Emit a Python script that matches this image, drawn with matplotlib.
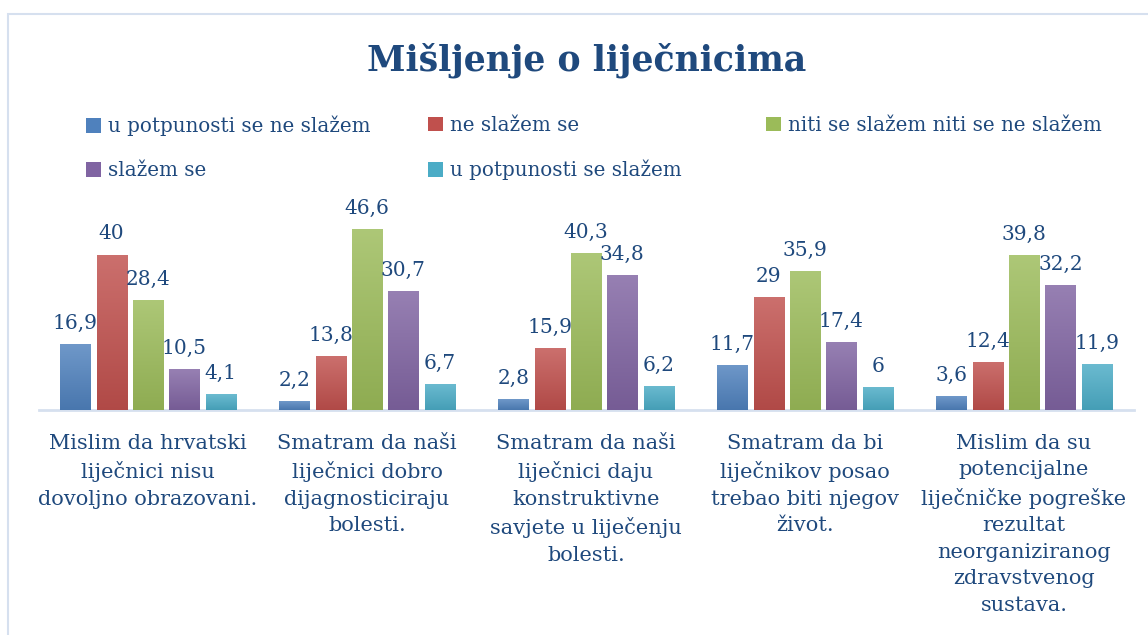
import numpy as np
import matplotlib
matplotlib.use('Agg')
import matplotlib.pyplot as plt
from matplotlib.patches import Patch, Rectangle
from matplotlib.colors import to_rgb

# chart data
categories = [
    'Mislim da hrvatski\nliječnici nisu\ndovoljno obrazovani.',
    'Smatram da naši\nliječnici dobro\ndijagnosticiraju\nbolesti.',
    'Smatram da naši\nliječnici daju\nkonstruktivne\nsavjete u liječenju\nbolesti.',
    'Smatram da bi\nliječnikov posao\ntrebao biti njegov\nživot.',
    'Mislim da su\npotencijalne\nliječničke pogreške\nrezultat\nneorganiziranog\nzdravstvenog\nsustava.',
]
series_names = [
    'u potpunosti se ne slažem',
    'ne slažem se',
    'niti se slažem niti se ne slažem',
    'slažem se',
    'u potpunosti se slažem',
]
u_potpunosti_ne = [16.9, 2.2, 2.8, 11.7, 3.6]
ne_slazem = [40, 13.8, 15.9, 29, 12.4]
niti_niti = [28.4, 46.6, 40.3, 35.9, 39.8]
slazem = [10.5, 30.7, 34.8, 17.4, 32.2]
u_potpunosti_da = [4.1, 6.7, 6.2, 6, 11.9]
series = [u_potpunosti_ne, ne_slazem, niti_niti, slazem, u_potpunosti_da]

colors = ['#4F81BD', '#C0504D', '#9BBB59', '#8064A2', '#4BACC6']
TEXT = '#1F497D'
FONT = 'DejaVu Serif'

W, H = 1148, 635
fig = plt.figure(figsize=(W / 100, H / 100), dpi=100)
fig.patch.set_facecolor('white')

# outer chart border
fig.patches.append(Rectangle((8 / W, -0.1), 1.2, (H - 14) / H + 0.1, transform=fig.transFigure,
                             fill=False, edgecolor='#D6E0EF', lw=1.5))

# axes placed in pixels: baseline y=410, 3.885 px per unit
ymax = 50
ax_left, ax_right, base_y = 38.5, 1133.5, 410
ax_h = ymax * 3.885
ax = fig.add_axes([ax_left / W, (H - base_y) / H, (ax_right - ax_left) / W, ax_h / H])

x = np.arange(len(categories))
pitch = 0.166
width = 0.137


def shade(c, f):
    c = np.array(to_rgb(c))
    if f > 0:
        return c + (1 - c) * f
    return c * (1 + f)


for j, (vals, c) in enumerate(zip(series, colors)):
    bars = ax.bar(x + (j - 2) * pitch, vals, width, color=c, zorder=2)
    grad = np.linspace(0, 1, 64)[:, None, None]
    img = shade(c, -0.08)[None, None, :] * (1 - grad) + shade(c, 0.18)[None, None, :] * grad
    for b, v in zip(bars, vals):
        im = ax.imshow(img, extent=(b.get_x(), b.get_x() + b.get_width(), 0, b.get_height()),
                       origin='lower', aspect='auto', zorder=3)
        im.set_clip_path(b)
        ax.annotate(f'{v:g}'.replace('.', ','), (b.get_x() + b.get_width() / 2, v),
                    xytext=(0, 8), textcoords='offset points', ha='center', va='bottom',
                    fontsize=14.5, color=TEXT, family=FONT, zorder=4)

ax.set_xlim(-0.5, len(categories) - 0.5)
ax.set_ylim(0, ymax)
ax.set_yticks([])
ax.set_xticks(x)
ax.set_xticklabels(categories, fontsize=15, color=TEXT, family=FONT, linespacing=1.5)
ax.tick_params(axis='x', length=0, pad=17)
for s in ['top', 'left', 'right']:
    ax.spines[s].set_visible(False)
ax.spines['bottom'].set_color('#D6E0EF')
ax.spines['bottom'].set_linewidth(2)
ax.patch.set_alpha(0)

# title
fig.text(587 / W, 1 - 60 / H, 'Mišljenje o liječnicima', ha='center', va='center',
         fontsize=25, fontweight='bold', color=TEXT, family=FONT)

# legend laid out in three fixed columns
handles = [Patch(facecolor=c) for c in colors]
col_idx = [[0, 3], [1, 4], [2]]
col_x = [86, 428, 766]
for idx, cx in zip(col_idx, col_x):
    leg = fig.legend([handles[i] for i in idx], [series_names[i] for i in idx],
                     loc='upper left', bbox_to_anchor=(cx / W, 1 - 116 / H), frameon=False,
                     borderpad=0, borderaxespad=0, handlelength=0.75, handleheight=0.75,
                     handletextpad=0.35, labelspacing=1.25,
                     prop={'family': FONT, 'size': 14.3})
    for t in leg.get_texts():
        t.set_color(TEXT)

fig.savefig('out.png', dpi=100)
